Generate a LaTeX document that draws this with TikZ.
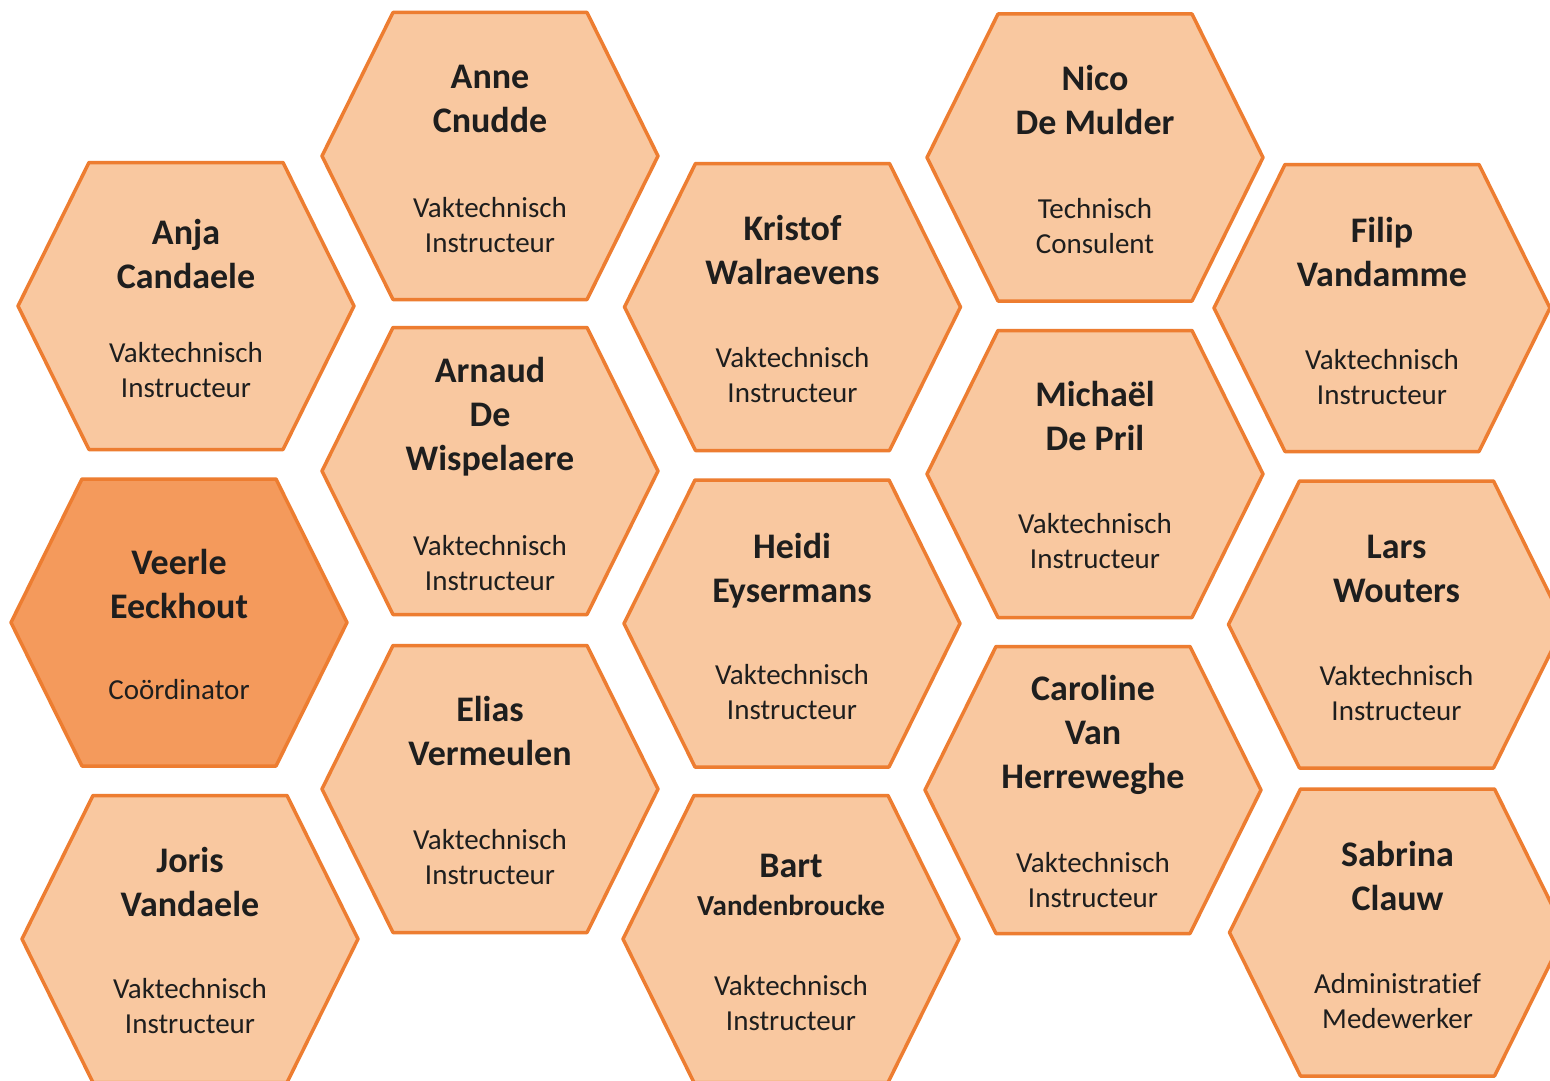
\documentclass[tikz,border=0pt]{standalone}
\usepackage{fontspec}
\setmainfont{Carlito}[Ligatures={NoCommon,NoRare}]
\definecolor{hexfill}{HTML}{F9C8A0}
\definecolor{hexdark}{HTML}{F49A5C}
\definecolor{hexline}{HTML}{ED7D31}
\definecolor{txt}{HTML}{1E1E1E}
\tikzset{
  hexcellstyle/.style={draw=hexline, line width=3.5pt, line join=round, fill=hexfill},
  leadcell/.style={fill=hexdark},
  plaincell/.style={},
  nametext/.style={inner sep=0pt, align=center, text=txt, font=\fontsize{36}{44}\selectfont\bfseries},
  smallname/.style={inner sep=0pt, align=center, text=txt, font=\fontsize{29}{35}\selectfont\bfseries},
  roletext/.style={inner sep=0pt, align=center, text=txt, font=\fontsize{29}{35}\selectfont},
}
\newcommand{\nstr}{\rule[-10pt]{0pt}{43pt}}
\newcommand{\rstr}{\rule[-7.5pt]{0pt}{34pt}}
% id, cx, cy, style, name text, name y, role text, role y
\newcommand{\hexcell}[8]{%
  \draw[hexcellstyle,#4] (#2-168,#3) -- (#2-97,#3-143.5) -- (#2+97,#3-143.5) -- (#2+168,#3) -- (#2+97,#3+143.5) -- (#2-97,#3+143.5) -- cycle;
  \node[nametext] (#1name) at (#2,#6) {#5};
  \node[roletext] (#1role) at (#2,#8) {#7};
}
\begin{document}
\begin{tikzpicture}[x=1pt,y=-1pt]
\fill[white] (0,0) rectangle (1550,1081);
\useasboundingbox (0,0) rectangle (1550,1081);
\clip (0,0) rectangle (1550,1081);
% column 1
\hexcell{anja}{186}{306}{plaincell}{\nstr Anja\\\nstr Candaele}{255}{\rstr Vaktechnisch\\\rstr Instructeur}{370}
\hexcell{veerle}{179}{622.5}{leadcell}{\nstr Veerle\\\nstr Eeckhout}{585}{\rstr Coördinator}{690}
\hexcell{joris}{190}{939}{plaincell}{\nstr Joris\\\nstr Vandaele}{883}{\rstr Vaktechnisch\\\rstr Instructeur}{1006}
% column 2
\hexcell{anne}{490}{156}{plaincell}{\nstr Anne\\\nstr Cnudde}{99}{\rstr Vaktechnisch\\\rstr Instructeur}{225}
\hexcell{arnaud}{490}{471}{plaincell}{\nstr Arnaud\\\nstr De\\\nstr Wispelaere}{415}{\rstr Vaktechnisch\\\rstr Instructeur}{563}
\hexcell{elias}{490}{789}{plaincell}{\nstr Elias\\\nstr Vermeulen}{732}{\rstr Vaktechnisch\\\rstr Instructeur}{857}
% column 3
\hexcell{kristof}{792.5}{307}{plaincell}{\nstr Kristof\\\nstr Walraevens}{251}{\rstr Vaktechnisch\\\rstr Instructeur}{375}
\hexcell{heidi}{792}{623.5}{plaincell}{\nstr Heidi\\\nstr Eysermans}{569}{\rstr Vaktechnisch\\\rstr Instructeur}{692}
\hexcell{bart}{791}{939}{plaincell}{\nstr Bart}{866}{\rstr Vaktechnisch\\\rstr Instructeur}{1003}
\node[smallname] (bartsurname) at (791,906) {\rstr Vandenbroucke};
% column 4
\hexcell{nico}{1095}{157.5}{plaincell}{\nstr Nico\\\nstr De Mulder}{101}{\rstr Technisch\\\rstr Consulent}{226}
\hexcell{michael}{1095}{474}{plaincell}{\nstr Michaël\\\nstr De Pril}{417}{\rstr Vaktechnisch\\\rstr Instructeur}{541}
\hexcell{caroline}{1093}{790}{plaincell}{\nstr Caroline\\\nstr Van\\\nstr Herreweghe}{733}{\rstr Vaktechnisch\\\rstr Instructeur}{880}
% column 5
\hexcell{filip}{1382}{308}{plaincell}{\nstr Filip\\\nstr Vandamme}{253}{\rstr Vaktechnisch\\\rstr Instructeur}{377}
\hexcell{lars}{1396.5}{624.5}{plaincell}{\nstr Lars\\\nstr Wouters}{569}{\rstr Vaktechnisch\\\rstr Instructeur}{693}
\hexcell{sabrina}{1397.5}{932.5}{plaincell}{\nstr Sabrina\\\nstr Clauw}{877}{\rstr Administratief\\\rstr Medewerker}{1001}
\end{tikzpicture}
\end{document}
